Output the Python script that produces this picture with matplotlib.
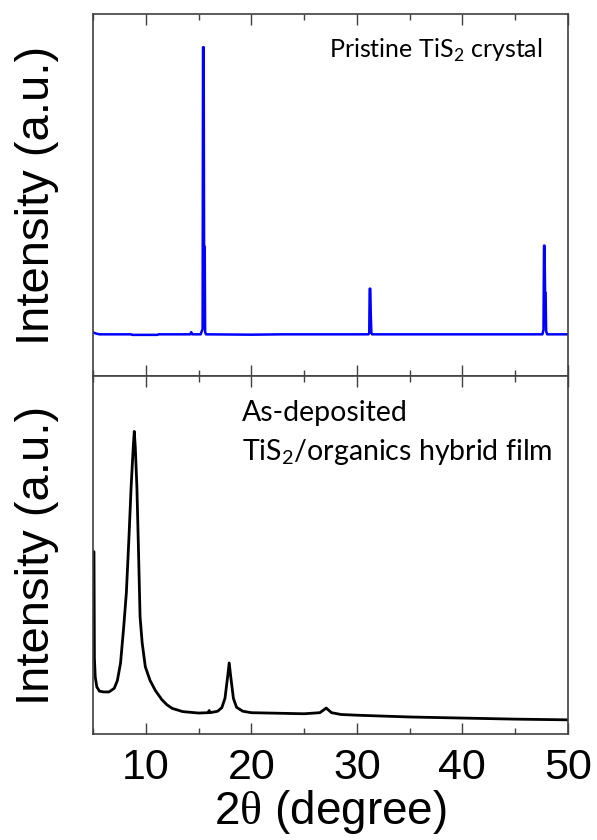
import matplotlib.pyplot as plt
from matplotlib.ticker import MultipleLocator

plt.rcParams['font.family'] = ['Liberation Sans', 'DejaVu Sans']
plt.rcParams['mathtext.fontset'] = 'custom'
plt.rcParams['mathtext.rm'] = 'Liberation Serif'
plt.rcParams['mathtext.sf'] = 'Lato'

# Pristine TiS2 crystal (intensity normalised to axis height)
x_top = [5.0, 5.3, 5.6, 8.6, 8.7, 11.1, 11.2, 14.2, 14.3, 14.4, 15.2, 15.3, 15.38,
         15.42, 15.48, 15.52, 15.58, 15.62, 15.7, 20.0, 23.0, 31.1, 31.18, 31.22,
         31.28, 31.32, 31.38, 31.45, 40.0, 47.6, 47.7, 47.75, 47.8, 47.85, 47.9,
         47.95, 48.05, 50.0]
y_top = [0.121, 0.118, 0.116, 0.116, 0.1145, 0.1145, 0.116, 0.116, 0.122, 0.116, 0.116,
         0.125, 0.13, 0.909, 0.909, 0.358, 0.358, 0.122, 0.116, 0.115, 0.116, 0.116,
         0.12, 0.242, 0.242, 0.176, 0.12, 0.116, 0.116, 0.116, 0.129, 0.361, 0.361,
         0.231, 0.231, 0.125, 0.116, 0.116]

# As-deposited TiS2/organics hybrid film
x_bot = [5.03, 5.03, 5.08, 5.12, 5.2, 5.35, 5.6, 6.0, 6.5, 7.0, 7.3, 7.6, 7.9, 8.15, 8.4,
         8.6, 8.8, 8.9, 9.0, 9.15, 9.3, 9.45, 9.65, 9.95, 10.4, 10.9, 11.5, 12.0,
         12.5, 13.5, 15.0, 15.9, 16.0, 16.1, 16.8, 17.2, 17.5, 17.75, 17.9, 18.05,
         18.3, 18.6, 19.2, 20.0, 25.0, 26.5, 27.1, 27.6, 28.5, 30.0, 35.0, 40.0,
         45.0, 50.0]
y_bot = [0.22, 0.51, 0.51, 0.213, 0.16, 0.132, 0.12, 0.118, 0.118, 0.128, 0.15, 0.199,
         0.30, 0.395, 0.552, 0.69, 0.80, 0.846, 0.80, 0.69, 0.515, 0.328, 0.255,
         0.188, 0.15, 0.122, 0.097, 0.082, 0.072, 0.063, 0.059, 0.06, 0.066, 0.06,
         0.064, 0.074, 0.10, 0.16, 0.199, 0.16, 0.10, 0.075, 0.064, 0.06, 0.057,
         0.06, 0.073, 0.06, 0.055, 0.053, 0.048, 0.045, 0.042, 0.040]

xticks = [10, 20, 30, 40, 50]

fig = plt.figure(figsize=(5.97, 8.4), dpi=100)
ax1 = fig.add_axes([0.156, 0.552, 0.795, 0.431])
ax2 = fig.add_axes([0.156, 0.126, 0.795, 0.426], sharex=ax1)

ax1.plot(x_top, y_top, color='#0000ff', lw=1.8)
ax2.plot(x_bot, y_bot, color='black', lw=2.0)

for ax in (ax1, ax2):
    ax.set_xlim(5, 50)
    ax.set_ylim(0, 1)
    ax.set_yticks([])
    ax.xaxis.set_major_locator(MultipleLocator(10))
    ax.xaxis.set_minor_locator(MultipleLocator(5))
    ax.tick_params(axis='x', which='both', direction='in', top=True, bottom=True,
                   color='#404040', width=1.0)
    ax.tick_params(axis='x', which='major', length=8)
    ax.tick_params(axis='x', which='minor', length=4)
    for s in ax.spines.values():
        s.set_color('#404040')
        s.set_linewidth(1.2)
    ax.set_ylabel('Intensity (a.u.)', fontsize=34, va='center')
    ax.yaxis.set_label_coords(-0.118, 0.5)

ax1.tick_params(axis='x', labelbottom=False)
ax2.set_xticks(xticks)
ax2.tick_params(axis='x', labelsize=31, pad=10)
ax2.set_xlabel(r'2$\mathrm{\theta}$ (degree)', fontsize=33, labelpad=0)

ax1.text(0.947, 0.88, r'Pristine TiS$_\mathsf{2}$ crystal', transform=ax1.transAxes,
         ha='right', va='baseline', fontsize=18, family='Lato')
ax2.text(0.314, 0.874, 'As-deposited', transform=ax2.transAxes,
         ha='left', va='baseline', fontsize=20.5, family='Lato')
ax2.text(0.314, 0.767, r'TiS$_\mathsf{2}$/organics hybrid film', transform=ax2.transAxes,
         ha='left', va='baseline', fontsize=20.5, family='Lato')

fig.savefig('out.png', dpi=100)
